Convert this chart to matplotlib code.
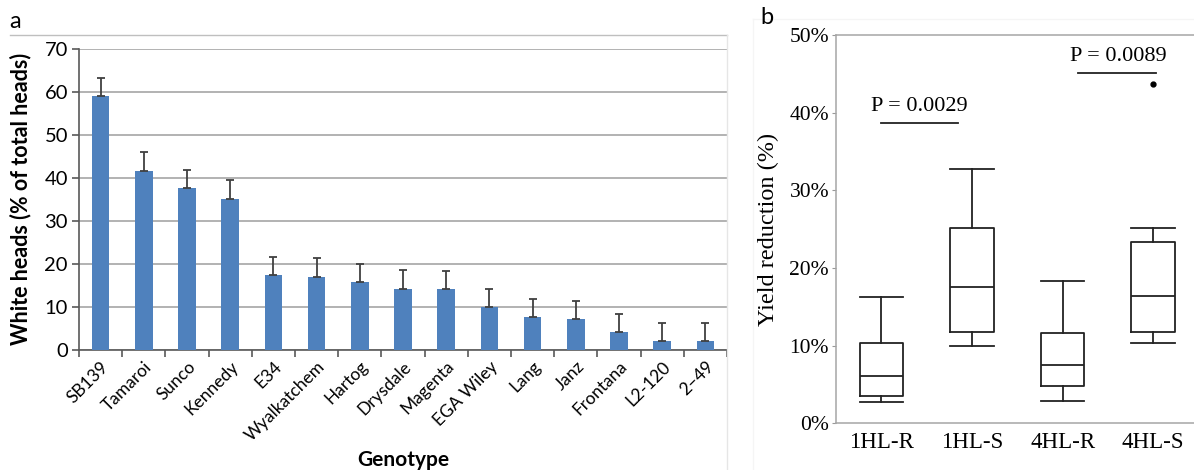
import matplotlib
matplotlib.use("Agg")
import matplotlib.pyplot as plt
from matplotlib.lines import Line2D

# panel a data
genotypes = ["SB139", "Tamaroi", "Sunco", "Kennedy", "E34", "Wyalkatchem", "Hartog",
             "Drysdale", "Magenta", "EGA Wiley", "Lang", "Janz", "Frontana", "L2-120", "2\u201349"]
white_heads = [59.0, 41.6, 37.6, 35.1, 17.5, 17.0, 15.8, 14.2, 14.1, 9.9, 7.7, 7.2, 4.1, 2.2, 2.2]
white_heads_err = [4.2, 4.3, 4.3, 4.3, 4.2, 4.3, 4.2, 4.3, 4.2, 4.2, 4.2, 4.2, 4.2, 4.1, 4.1]

# panel b data (yield reduction, %)
groups = ["1HL-R", "1HL-S", "4HL-R", "4HL-S"]
whisker_low = [2.8, 9.9, 2.9, 10.3]
q1 = [3.5, 11.7, 4.8, 11.7]
median = [6.1, 17.6, 7.5, 16.4]
q3 = [10.4, 25.2, 11.6, 23.4]
whisker_high = [16.3, 32.7, 18.3, 25.2]
outliers = [[], [], [], [43.7]]

fig = plt.figure(figsize=(11.94, 4.70), dpi=100)
sans = ["Lato", "DejaVu Sans"]
serif = ["Liberation Serif", "DejaVu Serif"]

# ---- panel a ----
ax = fig.add_axes([0.0662, 0.2553, 0.5427, 0.6415])
x = list(range(len(genotypes)))
ax.bar(x, white_heads, width=0.41, color="#4F81BD", zorder=3)
ax.errorbar(x, white_heads, yerr=[[0] * len(x), white_heads_err], fmt="none",
            ecolor="#404040", elinewidth=1.3, capsize=3, capthick=1.3, zorder=4)
ax.set_xlim(-0.5, len(genotypes) - 0.5)
ax.set_ylim(0, 70)
ax.set_yticks(range(0, 71, 10))
ax.yaxis.grid(True, color="#A6A6A6", linewidth=1.2, zorder=0)
ax.set_axisbelow(True)
for s in ["top", "right"]:
    ax.spines[s].set_visible(False)
for s in ["left", "bottom"]:
    ax.spines[s].set_color("#595959")
    ax.spines[s].set_linewidth(1.2)
ax.set_xticks([i - 0.5 for i in range(len(genotypes) + 1)], minor=False)
ax.set_xticklabels([])
ax.set_xticks(x, minor=True)
ax.set_xticklabels(genotypes, minor=True, rotation=45, ha="right", rotation_mode="anchor",
                   family=sans, fontsize=12.5)
ax.tick_params(axis="x", which="major", length=5, color="#595959", width=1.2)
ax.tick_params(axis="x", which="minor", length=0, pad=6)
ax.tick_params(axis="y", length=5, color="#595959", width=1.2, labelsize=14.5, pad=3)
for lab in ax.get_yticklabels():
    lab.set_family(sans)
ax.set_ylabel("White heads (% of total heads)", family=sans, fontweight="bold", fontsize=15.5)
ax.yaxis.set_label_coords(-0.074, 0.5)
ax.set_xlabel("Genotype", family=sans, fontweight="bold", fontsize=15)
ax.xaxis.set_label_coords(0.5, -0.33)

fig.add_artist(Line2D([10 / 1194, 727 / 1194], [1 - 35 / 470] * 2, color="#BFBFBF", lw=1))
fig.add_artist(Line2D([727 / 1194] * 2, [1 - 35 / 470, 0], color="#E6E6E6", lw=1))
fig.text(15 / 1194, 1 - 22 / 470, "a", family=sans, fontsize=17, ha="center", va="center")

# ---- panel b ----
bx = fig.add_axes([0.7002, 0.0994, 0.2998, 0.8261])
stats = []
for i, g in enumerate(groups):
    stats.append({"label": g, "whislo": whisker_low[i], "q1": q1[i], "med": median[i],
                  "q3": q3[i], "whishi": whisker_high[i], "fliers": outliers[i]})
line = dict(color="#222222", linewidth=1.3)
bx.bxp(stats, positions=[1, 2, 3, 4], widths=0.48, boxprops=line, medianprops=line,
       whiskerprops=line, capprops=line, capwidths=0.48,
       flierprops=dict(marker="o", markersize=3.5, markerfacecolor="black", markeredgecolor="black"))
bx.set_xlim(0.5, 4.45)
bx.set_ylim(0, 50)
bx.set_yticks(range(0, 51, 10))
bx.set_yticklabels([f"{v}%" for v in range(0, 51, 10)], family=serif, fontsize=15.5)
bx.set_xticklabels(groups, family=serif, fontsize=16.5)
bx.tick_params(axis="x", length=0, pad=6)
bx.tick_params(axis="y", length=3, color="#999999", pad=2)
for s in ["right"]:
    bx.spines[s].set_visible(False)
for s in ["left", "bottom", "top"]:
    bx.spines[s].set_color("#A6A6A6")
    bx.spines[s].set_linewidth(1.1)
bx.set_ylabel("Yield reduction (%)", family=serif, fontsize=17.5)
bx.yaxis.set_label_coords(-0.16, 0.5)

bx.plot([1.0, 1.85], [38.7, 38.7], color="#222222", lw=1.3)
bx.text(1.42, 39.6, "P = 0.0029", family=serif, fontsize=16, ha="center", va="bottom")
bx.plot([3.17, 4.03], [45.1, 45.1], color="#222222", lw=1.3)
bx.text(3.61, 46.0, "P = 0.0089", family=serif, fontsize=16, ha="center", va="bottom")

fig.add_artist(Line2D([753 / 1194, 1], [1 - 19 / 470] * 2, color="#F5F5F5", lw=1))
fig.add_artist(Line2D([753 / 1194] * 2, [1 - 19 / 470, 0], color="#F5F5F5", lw=1))
fig.text(767 / 1194, 1 - 18 / 470, "b", family=sans, fontsize=17, ha="center", va="center")

fig.savefig("out.png", dpi=100)
